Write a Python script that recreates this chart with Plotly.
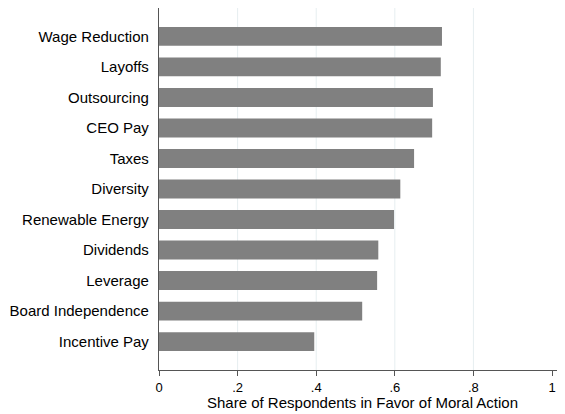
import plotly.graph_objects as go

categories = ["Wage Reduction", "Layoffs", "Outsourcing", "CEO Pay", "Taxes",
              "Diversity", "Renewable Energy", "Dividends", "Leverage",
              "Board Independence", "Incentive Pay"]
shares = [0.720, 0.717, 0.697, 0.695, 0.649, 0.614, 0.598, 0.558, 0.555, 0.517, 0.395]
tick_vals = [0, 0.2, 0.4, 0.6, 0.8, 1]
tick_text = ["0", ".2", ".4", ".6", ".8", "1"]
grid_vals = [0.2, 0.4, 0.6, 0.8]
x_title = "Share of Respondents in Favor of Moral Action"

font_family = "Liberation Sans, Arial, Helvetica, sans-serif"

fig = go.Figure()
fig.add_trace(go.Bar(
    x=shares, y=categories, orientation="h",
    marker=dict(color="#808080", line=dict(width=0)),
    hoverinfo="x+y",
))

for g in grid_vals:
    fig.add_shape(type="line", xref="x", yref="paper", x0=g, x1=g, y0=0, y1=1,
                  line=dict(color="#e6eef0", width=1), layer="below")

fig.add_annotation(text=x_title, xref="paper", yref="paper", x=0.5, y=0,
                   xanchor="center", yanchor="middle", yshift=-32, borderpad=0,
                   showarrow=False, font=dict(size=15, color="#000000"))

n = len(categories)
fig.update_layout(
    width=557, height=406,
    margin=dict(l=151, r=0, t=0, b=44),
    paper_bgcolor="white", plot_bgcolor="white",
    font=dict(family=font_family, size=15, color="#000000"),
    bargap=0.38,
    showlegend=False,
    xaxis=dict(
        range=[0, 1.033],
        tickvals=tick_vals, ticktext=tick_text,
        showgrid=False, zeroline=False,
        showline=True, linecolor="#555555", linewidth=1.3,
        ticks="outside", ticklen=5, tickcolor="#555555", tickwidth=1.3,
        tickfont=dict(size=13), ticklabeloverflow="allow",
    ),
    yaxis=dict(
        type="category",
        categoryorder="array", categoryarray=categories,
        range=[n - 1 + 0.93, -0.93],
        showgrid=False, zeroline=False,
        showline=True, linecolor="#555555", linewidth=1.3,
        ticks="", ticklabelstandoff=6,
        tickfont=dict(size=15),
    ),
)

fig.write_html("out.html")
